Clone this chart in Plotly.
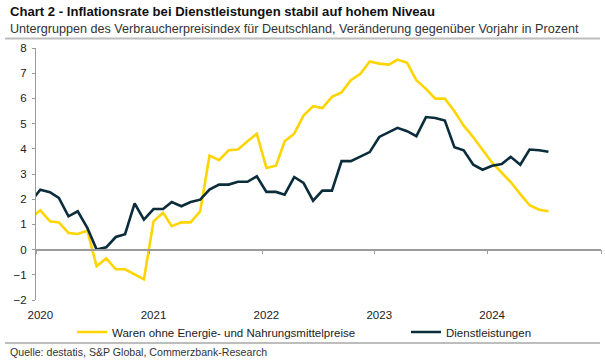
import plotly.graph_objects as go
import pandas as pd

# Monthly data, Dec 2019 .. Jul 2024 (points plotted mid-month)
months = pd.date_range("2019-12-01", periods=56, freq="MS") + pd.Timedelta(days=14)

waren = [1.25,
         1.56, 1.12, 1.08, 0.66, 0.62, 0.75, -0.66, -0.35, -0.78, -0.78, -1.00, -1.18,
         1.12, 1.46, 0.93, 1.08, 1.08, 1.52, 3.73, 3.55, 3.94, 3.97, 4.30, 4.60,
         3.24, 3.33, 4.30, 4.60, 5.32, 5.69, 5.62, 6.06, 6.24, 6.72, 6.98, 7.47,
         7.38, 7.34, 7.54, 7.41, 6.72, 6.38, 5.99, 5.99, 5.49, 4.92, 4.46, 3.94,
         3.45, 3.05, 2.68, 2.20, 1.76, 1.58, 1.52]

dienst = [1.90,
          2.38, 2.28, 2.05, 1.32, 1.52, 0.86, 0.00, 0.09, 0.50, 0.61, 1.83, 1.19,
          1.61, 1.61, 1.89, 1.72, 1.89, 1.98, 2.38, 2.58, 2.58, 2.69, 2.69, 2.91,
          2.29, 2.29, 2.18, 2.88, 2.65, 1.94, 2.34, 2.34, 3.51, 3.51, 3.70, 3.87,
          4.47, 4.66, 4.83, 4.70, 4.50, 5.26, 5.22, 5.12, 4.06, 3.94, 3.37, 3.17,
          3.33, 3.40, 3.68, 3.37, 3.97, 3.94, 3.88]

year_labels = ["2020", "2021", "2022", "2023", "2024"]
label_dates = [f"{y}-01-15" for y in year_labels]
year_bounds = [f"{y}-01-01" for y in range(2020, 2026)]

name_w = "Waren ohne Energie- und Nahrungsmittelpreise"
name_d = "Dienstleistungen"

YELLOW = "#FFD500"
NAVY = "#0B2C3A"
GRAY = "#9b9b9b"
FONT = "Liberation Sans, Arial, sans-serif"

fig = go.Figure()
fig.add_trace(go.Scatter(x=months, y=waren, mode="lines", name=name_w,
                         line=dict(color=YELLOW, width=2.6), xaxis="x", yaxis="y",
                         legend="legend"))
fig.add_trace(go.Scatter(x=months, y=dienst, mode="lines", name=name_d,
                         line=dict(color=NAVY, width=2.6), xaxis="x2", yaxis="y",
                         legend="legend2"))

xr = ["2020-01-01", "2025-01-01"]
leg_common = dict(orientation="h", xref="container", yref="container",
                  y=(362 - 332) / 362, xanchor="left", yanchor="middle",
                  font=dict(size=11.5, color="#222"), bgcolor="rgba(0,0,0,0)",
                  itemwidth=30)
fig.update_layout(
    width=605, height=362,
    margin=dict(l=36, r=4, t=48, b=62, autoexpand=False),
    paper_bgcolor="white", plot_bgcolor="white",
    font=dict(family=FONT, size=11, color="#222"),
    xaxis=dict(range=xr, type="date", tickvals=label_dates, ticktext=year_labels,
               ticks="", showline=False, showgrid=False, zeroline=False,
               ticklabelstandoff=6, tickfont=dict(size=11.5, color="#222")),
    xaxis2=dict(range=xr, type="date", overlaying="x", anchor="free", position=0.2,
                showline=True, linecolor=GRAY, linewidth=1.5,
                ticks="outside", tickvals=year_bounds, ticklen=4, tickcolor=GRAY,
                showticklabels=False, showgrid=False, zeroline=False),
    yaxis=dict(range=[-2, 8], dtick=1, tick0=0, showline=True, linecolor=GRAY,
               linewidth=1, ticks="outside", ticklen=3, tickcolor=GRAY,
               ticklabelstandoff=3,
               showgrid=False, zeroline=False, tickfont=dict(size=11.5, color="#222")),
    showlegend=True,
    legend=dict(x=72 / 605, **leg_common),
    legend2=dict(x=406 / 605, **leg_common),
)

pw = 605 - 36 - 4
ph = 362 - 48 - 62
def px(x):
    return (x - 36) / pw
def py(y):
    return (300 - y) / ph

fig.add_annotation(text="<b>Chart 2 - Inflationsrate bei Dienstleistungen stabil auf hohem Niveau</b>",
                   xref="paper", yref="paper", x=px(8), y=py(11.5), xanchor="left", yanchor="middle",
                   showarrow=False, font=dict(size=13.1, color="#111", family=FONT))
fig.add_annotation(text="Untergruppen des Verbraucherpreisindex für Deutschland, Veränderung gegenüber Vorjahr in Prozent",
                   xref="paper", yref="paper", x=px(8), y=py(28.5), xanchor="left", yanchor="middle",
                   showarrow=False, font=dict(size=12.6, color="#333", family=FONT))
fig.add_annotation(text="Quelle: destatis, S&P Global, Commerzbank-Research",
                   xref="paper", yref="paper", x=px(8), y=py(352), xanchor="left", yanchor="middle",
                   showarrow=False, font=dict(size=10.6, color="#333", family=FONT))

for yy in (38.5, 343):
    fig.add_shape(type="line", xref="paper", yref="paper", x0=px(5), x1=px(600),
                  y0=py(yy), y1=py(yy), line=dict(color="#bdbdbd", width=2))

fig.write_html("out.html", config={"displayModeBar": False},
               post_script="document.body.style.margin='0';document.body.style.padding='0';document.body.style.overflow='hidden';")
